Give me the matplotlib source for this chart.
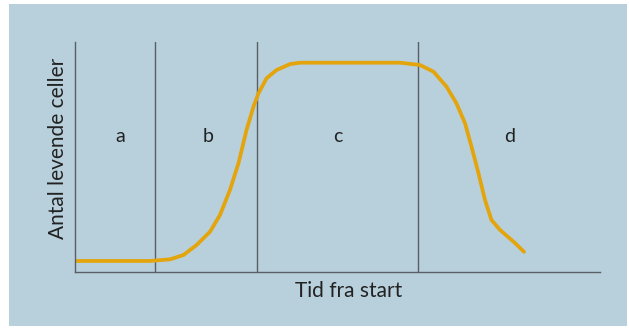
import matplotlib
matplotlib.use("Agg")
import matplotlib.pyplot as plt

# Vekstkurve for bakterier: fasene a-d
tid = [0.4, 15, 19, 21.7, 24.3, 27, 29, 31, 32.7, 34.3, 35.7, 36.7, 38.3, 40.3,
       43, 45, 65, 69, 71.7, 74.3, 76.3, 78, 79.3, 80.7, 82, 83.3, 85, 87.7, 89.8]
celler = [4.8, 4.8, 5.5, 7.4, 11.7, 17.5, 24.8, 35.7, 47.3, 61.7, 71.9, 77.7, 84.2,
          87.8, 90.4, 91.0, 91.0, 90.0, 87.1, 80.6, 73.3, 64.7, 54.5, 42.9, 31.3,
          22.6, 18.3, 13.2, 8.8]

fase_grenser = [16, 36.4, 68.6]
fase_navn = ["a", "b", "c", "d"]
fase_x = [9, 26.6, 52.6, 87]

bg = "#b8d0dc"
linjefarge = "#5a5f66"
kurvefarge = "#e3a40c"
tekstfarge = "#222222"

plt.rcParams['font.family'] = ['Lato', 'DejaVu Sans']

fig = plt.figure(figsize=(6.29, 3.29), dpi=100)
fig.patch.set_facecolor("white")
# bakgrunnsboks
fig.patches.append(plt.Rectangle((9 / 629, 3 / 329), 618 / 629, 322 / 329,
                                 transform=fig.transFigure, facecolor=bg,
                                 edgecolor="none", zorder=-1))

ax = fig.add_axes([75 / 629, (329 - 272) / 329, 525 / 629, 230 / 329])
ax.set_zorder(1)
ax.set_facecolor("none")
ax.set_xlim(0, 105)
ax.set_ylim(0, 100)

for x in fase_grenser:
    ax.axvline(x, color=linjefarge, lw=1.0)

ax.plot(tid, celler, color=kurvefarge, lw=2.7, solid_capstyle="round",
        solid_joinstyle="round")

for navn, x in zip(fase_navn, fase_x):
    ax.text(x, 58.7, navn, ha="center", va="center", fontsize=14, color=tekstfarge)

for side in ["top", "right"]:
    ax.spines[side].set_visible(False)
for side in ["left", "bottom"]:
    ax.spines[side].set_color(linjefarge)
    ax.spines[side].set_linewidth(1.0)
ax.set_xticks([])
ax.set_yticks([])

fig.text(349 / 629, 1 - 291 / 329, "Tid fra start", ha="center", va="center",
         fontsize=15, color=tekstfarge)
fig.text(58 / 629, 1 - 148 / 329, "Antal levende celler", ha="center", va="center",
         rotation=90, fontsize=15, color=tekstfarge)

fig.savefig("out.png", dpi=100)
